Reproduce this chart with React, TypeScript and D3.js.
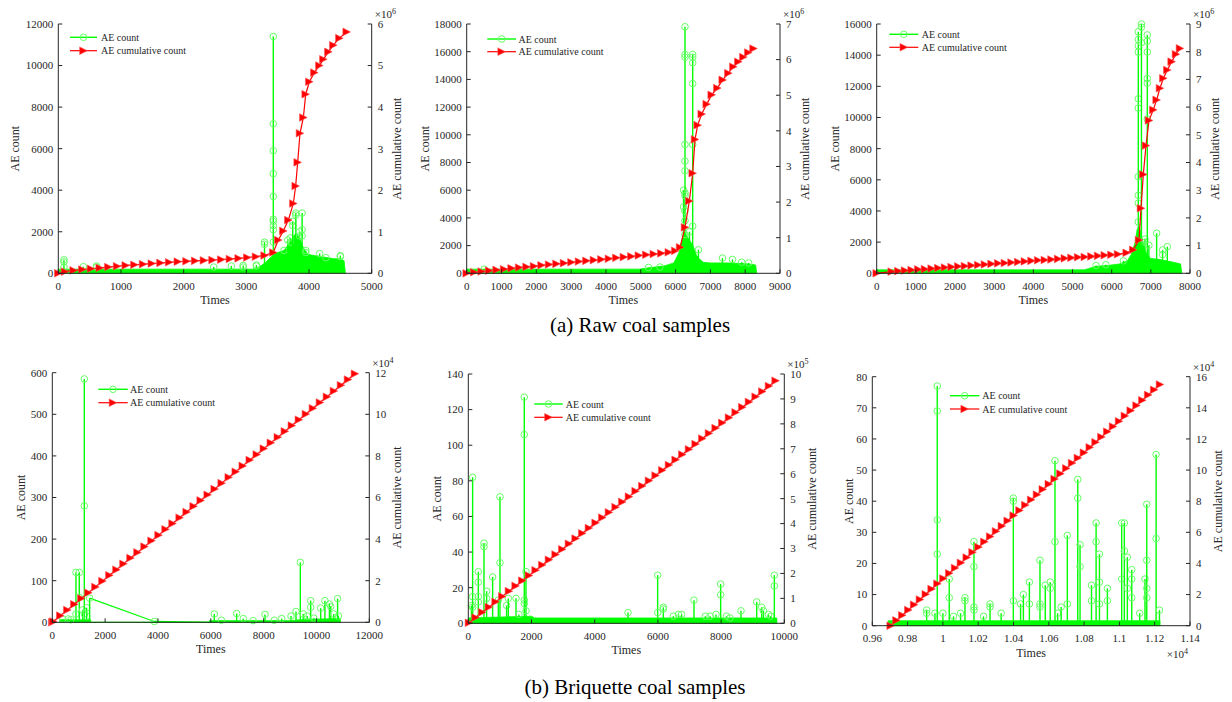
import React from "react";
import * as d3 from "d3";

type Pt = [number, number];
type Spike = [number, number[]];

// ================= (a) Raw coal samples =================
// Panel 1
const p1CumTimes = [0, 107, 245, 384, 522, 661, 799, 938, 1076, 1215, 1353, 1492, 1630, 1769, 1907, 2046, 2184, 2323, 2461, 2600, 2738, 2877, 3015, 3154, 3292, 3430, 3510, 3590, 3670, 3750, 3787, 3819, 3856, 3910, 3947, 4005, 4085, 4165, 4229, 4309, 4388, 4484, 4601];
const p1CumValues = [0, 0.04, 0.07, 0.09, 0.11, 0.13, 0.15, 0.17, 0.19, 0.205, 0.22, 0.235, 0.25, 0.265, 0.28, 0.29, 0.3, 0.31, 0.32, 0.33, 0.345, 0.36, 0.38, 0.4, 0.43, 0.5, 0.8, 1.02, 1.28, 1.68, 2.1, 2.67, 3.37, 3.75, 4.31, 4.61, 4.83, 5.0, 5.15, 5.33, 5.49, 5.66, 5.81];
const p1Band: Pt[] = [[0, 0], [0, 200], [3100, 200], [3200, 300], [3300, 500], [3400, 800], [3450, 950], [3500, 1000], [3600, 1100], [3650, 1300], [3700, 1500], [3750, 1800], [3800, 1900], [3850, 1700], [3900, 1300], [3950, 1000], [4000, 900], [4100, 850], [4200, 800], [4300, 750], [4400, 700], [4500, 700], [4560, 600], [4580, 0]];
const p1Spikes: Spike[] = [[90, [650, 550, 300]], [400, [320]], [610, [350, 300]], [2480, [300]], [2760, [350]], [2950, [380, 300]], [3160, [400, 350]], [3290, [1500, 1400]], [3430, [11400, 7200, 5900, 4800, 3700, 2600, 2500, 2300, 2100, 1500]], [3600, [1100]], [3660, [1600]], [3700, [1700, 1500]], [3740, [2500, 2300]], [3790, [2900, 2800]], [3850, [2000, 1800]], [3890, [2900, 2100, 1800]], [3950, [1100, 1000]], [4170, [950]], [4270, [750]], [4500, [850, 800]]];
const p1XTicks = [0, 1000, 2000, 3000, 4000, 5000];
const p1YLTicks = [0, 2000, 4000, 6000, 8000, 10000, 12000];
const p1YRTicks = [0, 1, 2, 3, 4, 5, 6];

// Panel 2
const p2CumTimes = [0, 215, 430, 645, 860, 1075, 1290, 1505, 1720, 1935, 2150, 2365, 2580, 2795, 3010, 3225, 3440, 3655, 3870, 4085, 4300, 4515, 4730, 4945, 5160, 5375, 5590, 5805, 5990, 6130, 6271, 6396, 6492, 6559, 6635, 6751, 6894, 7038, 7200, 7354, 7516, 7660, 7803, 7947, 8090, 8240];
const p2CumValues = [0, 0.03, 0.05, 0.075, 0.095, 0.115, 0.14, 0.16, 0.18, 0.2, 0.225, 0.245, 0.265, 0.285, 0.31, 0.33, 0.35, 0.37, 0.39, 0.41, 0.435, 0.455, 0.475, 0.5, 0.52, 0.54, 0.56, 0.59, 0.63, 0.73, 1.29, 2.03, 2.81, 3.76, 4.16, 4.47, 4.75, 5.01, 5.2, 5.43, 5.62, 5.8, 5.94, 6.07, 6.2, 6.31];
const p2Band: Pt[] = [[0, 0], [0, 300], [4950, 300], [5100, 350], [5400, 450], [5700, 550], [5950, 750], [6100, 1500], [6200, 2600], [6250, 3000], [6300, 2800], [6400, 2400], [6500, 2000], [6600, 1300], [6700, 1000], [6800, 800], [7000, 750], [7500, 750], [8000, 700], [8300, 600], [8330, 0]];
const p2Spikes: Spike[] = [[500, [300]], [5220, [420]], [5550, [450]], [6230, [6000, 4800]], [6271, [17800, 15800, 15600, 9300, 8100, 7400, 5800, 5600, 4500, 3800, 2800]], [6400, [3000]], [6492, [15800, 15600, 15200, 13700, 9300, 3400]], [6657, [1700]], [7347, [1100]], [7634, [1000]], [7900, [800]], [8100, [750]]];
const p2XTicks = [0, 1000, 2000, 3000, 4000, 5000, 6000, 7000, 8000, 9000];
const p2YLTicks = [0, 2000, 4000, 6000, 8000, 10000, 12000, 14000, 16000, 18000];
const p2YRTicks = [0, 1, 2, 3, 4, 5, 6, 7];

// Panel 3
const p3CumTimes = [0, 383, 553, 723, 893, 1063, 1233, 1403, 1573, 1743, 1913, 2083, 2253, 2423, 2593, 2763, 2933, 3103, 3273, 3443, 3613, 3783, 3953, 4123, 4293, 4463, 4633, 4803, 4973, 5143, 5313, 5483, 5653, 5823, 5993, 6163, 6383, 6551, 6698, 6749, 6808, 6876, 6953, 7063, 7148, 7233, 7319, 7421, 7531, 7642, 7744];
const p3CumValues = [0, 0.06, 0.08, 0.1, 0.12, 0.14, 0.15, 0.17, 0.19, 0.21, 0.23, 0.25, 0.26, 0.28, 0.3, 0.32, 0.34, 0.36, 0.37, 0.39, 0.41, 0.43, 0.45, 0.47, 0.48, 0.5, 0.52, 0.54, 0.56, 0.58, 0.59, 0.61, 0.63, 0.65, 0.67, 0.69, 0.74, 0.85, 1.2, 2.35, 3.57, 4.61, 5.52, 5.9, 6.26, 6.68, 7.04, 7.34, 7.64, 7.91, 8.12];
const p3Band: Pt[] = [[0, 0], [0, 220], [5300, 220], [5400, 300], [5600, 450], [5900, 500], [6200, 600], [6400, 800], [6500, 1200], [6600, 2000], [6650, 2800], [6700, 3000], [6750, 2500], [6800, 2000], [6850, 1500], [6900, 1200], [7000, 950], [7200, 900], [7400, 800], [7600, 700], [7760, 600], [7790, 0]];
const p3Spikes: Spike[] = [[5600, [500]], [5850, [550]], [6300, [800]], [6680, [15500, 15000, 14600, 14200, 11200, 10600, 6200, 5000, 4500, 3300]], [6760, [16000, 15800, 14800]], [6850, [2200, 2000]], [6910, [15300, 14900, 14200, 12500, 12200, 9900]], [6950, [1800]], [7148, [2570]], [7300, [1500, 1200]], [7421, [1710]]];
const p3XTicks = [0, 1000, 2000, 3000, 4000, 5000, 6000, 7000, 8000];
const p3YLTicks = [0, 2000, 4000, 6000, 8000, 10000, 12000, 14000, 16000];
const p3YRTicks = [0, 1, 2, 3, 4, 5, 6, 7, 8, 9];

// ================= (b) Briquette coal samples =================
// Panel 4
const p4CumTimes = [0, 38, 304, 569, 835, 1100, 1366, 1632, 1897, 2163, 2428, 2694, 2960, 3225, 3491, 3756, 4022, 4288, 4553, 4819, 5084, 5350, 5616, 5881, 6147, 6412, 6678, 6944, 7209, 7475, 7740, 8006, 8272, 8537, 8803, 9068, 9334, 9600, 9865, 10131, 10396, 10662, 10928, 11193, 11457];
const p4CumValues = [0, 0.04, 0.32, 0.59, 0.87, 1.15, 1.42, 1.7, 1.98, 2.26, 2.53, 2.81, 3.09, 3.36, 3.64, 3.92, 4.19, 4.47, 4.75, 5.03, 5.3, 5.58, 5.86, 6.13, 6.41, 6.69, 6.97, 7.24, 7.52, 7.8, 8.07, 8.35, 8.63, 8.9, 9.18, 9.46, 9.74, 10.01, 10.29, 10.57, 10.84, 11.12, 11.4, 11.67, 11.95];
const p4Band: Pt[] = [[280, 0], [280, 6], [1450, 6], [1460, 0], [5950, 0], [5950, 4], [9000, 4], [9500, 7], [10900, 9], [10910, 0]];
const p4Spikes: Spike[] = [[400, [8]], [600, [8]], [700, [6]], [896, [120, 20]], [1022, [120, 60]], [1150, [30]], [1212, [585, 280, 20]], [1300, [35, 15]], [1413, [58]], [6133, [20]], [6400, [5]], [6979, [21]], [7231, [9]], [7600, [4]], [8052, [19]], [8400, [5]], [8683, [9]], [9036, [15]], [9225, [26]], [9389, [144]], [9500, [20]], [9650, [15]], [9781, [52, 36]], [9900, [10]], [10160, [34]], [10320, [52]], [10490, [44]], [10540, [38]], [10650, [20]], [10800, [57]], [10830, [15]]];
const p4Gap: Pt[] = [[1413, 58], [3862, 2], [6000, 0]];
const p4XTicks = [0, 2000, 4000, 6000, 8000, 10000, 12000];
const p4YLTicks = [0, 100, 200, 300, 400, 500, 600];
const p4YRTicks = [0, 2, 4, 6, 8, 10, 12];

// Panel 5
const p5CumTimes = [20, 231, 442, 653, 864, 1075, 1286, 1497, 1708, 1919, 2130, 2341, 2552, 2763, 2974, 3185, 3396, 3607, 3818, 4029, 4240, 4451, 4662, 4873, 5084, 5295, 5506, 5717, 5928, 6139, 6350, 6561, 6772, 6983, 7194, 7405, 7616, 7827, 8038, 8249, 8460, 8671, 8882, 9093, 9304, 9515, 9726];
const p5CumValues = [0.02, 0.23, 0.44, 0.65, 0.86, 1.08, 1.29, 1.5, 1.71, 1.92, 2.13, 2.34, 2.55, 2.76, 2.97, 3.19, 3.4, 3.61, 3.82, 4.03, 4.24, 4.45, 4.66, 4.87, 5.08, 5.3, 5.51, 5.72, 5.93, 6.14, 6.35, 6.56, 6.77, 6.98, 7.19, 7.41, 7.62, 7.83, 8.04, 8.25, 8.46, 8.67, 8.88, 9.09, 9.3, 9.52, 9.73];
const p5Band: Pt[] = [[0, 0], [0, 3], [2000, 4], [2100, 3], [9760, 3], [9770, 0]];
const p5Spikes: Spike[] = [[100, [10]], [137, [82, 15, 9]], [317, [29, 23, 15, 12]], [496, [45, 43]], [580, [18, 14]], [770, [26]], [950, [13]], [1002, [71, 34]], [1213, [10]], [1266, [14]], [1509, [14]], [1600, [5]], [1772, [127, 106, 13, 11]], [1825, [29, 7]], [5053, [6]], [5992, [27, 6]], [6172, [9, 8]], [6490, [4]], [6650, [5]], [6750, [5]], [7142, [13]], [7500, [4]], [7650, [4]], [7839, [5]], [7986, [22, 16]], [8170, [4]], [8280, [3]], [8630, [7]], [9126, [12]], [9284, [9]], [9340, [7]], [9500, [5]], [9570, [4]], [9685, [27, 21]]];
const p5XTicks = [0, 2000, 4000, 6000, 8000, 10000];
const p5YLTicks = [0, 20, 40, 60, 80, 100, 120, 140];
const p5YRTicks = [0, 1, 2, 3, 4, 5, 6, 7, 8, 9, 10];

// Panel 6
const p6CumTimes = [9704, 9737, 9770, 9804, 9837, 9870, 9903, 9936, 9969, 10003, 10036, 10069, 10102, 10135, 10168, 10202, 10235, 10268, 10301, 10334, 10367, 10401, 10434, 10467, 10500, 10533, 10566, 10600, 10633, 10666, 10699, 10732, 10765, 10799, 10832, 10865, 10898, 10931, 10964, 10998, 11031, 11064, 11097, 11130, 11163, 11197, 11230];
const p6CumValues = [0, 0.34, 0.67, 1.01, 1.35, 1.68, 2.02, 2.36, 2.7, 3.03, 3.37, 3.71, 4.04, 4.38, 4.72, 5.05, 5.39, 5.73, 6.07, 6.4, 6.74, 7.08, 7.41, 7.75, 8.09, 8.42, 8.76, 9.1, 9.43, 9.77, 10.11, 10.45, 10.78, 11.12, 11.46, 11.79, 12.13, 12.47, 12.8, 13.14, 13.48, 13.82, 14.15, 14.49, 14.83, 15.16, 15.5];
const p6Band: Pt[] = [[9690, 0], [9690, 1.6], [11230, 1.6], [11230, 0]];
const p6Spikes: Spike[] = [[9908, [4, 5]], [9955, [4]], [9968, [77, 69, 34, 23]], [10000, [4]], [10036, [15, 9]], [10060, [3]], [10100, [4]], [10125, [9, 8]], [10176, [27, 19, 6, 5]], [10230, [3]], [10267, [7, 6]], [10330, [4]], [10399, [41, 40, 8]], [10440, [7]], [10456, [10]], [10490, [14, 7]], [10550, [21, 7, 6]], [10580, [13]], [10608, [14, 12]], [10635, [53, 27]], [10650, [4]], [10670, [6]], [10705, [29, 7]], [10764, [47, 41]], [10777, [26, 19]], [10842, [13, 8]], [10868, [33, 27]], [10887, [23, 14, 7]], [10932, [12, 8]], [11013, [33, 15]], [11028, [33, 24]], [11045, [22, 12]], [11070, [18, 15, 9]], [11115, [4]], [11145, [15]], [11155, [39, 21, 12, 9]], [11208, [55, 28]], [11227, [5]]];
const p6XTicks = [9600, 9800, 10000, 10200, 10400, 10600, 10800, 11000, 11200, 11400];
const p6XTickLabels = ["0.96", "0.98", "1", "1.02", "1.04", "1.06", "1.08", "1.1", "1.12", "1.14"];
const p6YLTicks = [0, 10, 20, 30, 40, 50, 60, 70, 80];
const p6YRTicks = [0, 2, 4, 6, 8, 10, 12, 14, 16];

const captionA = "(a) Raw coal samples";
const captionB = "(b) Briquette coal samples";
const legendA = "AE count";
const legendB = "AE cumulative count";

// ================= styling / layout =================
const FONT = "Liberation Serif, Times New Roman, serif";
const TXT = "#262626";
const GREEN = "#00ff00";
const CIRC = "#66ff66";
const RED = "#ff0000";

interface Cfg {
  left: number; right: number; top: number; bottom: number;
  xDomain: [number, number]; yLDomain: [number, number]; yRDomain: [number, number];
  xTicks: number[]; xTickLabels?: string[]; yLTicks: number[]; yRTicks: number[];
  exp: string; xExp?: string;
  cumT: number[]; cumV: number[]; band: Pt[]; spikes: Spike[]; gap?: Pt[];
  leftLabelX: number; rightLabelX: number;
  legX1: number; legX2: number; legY1: number; legY2: number; legTX: number;
}

const cfgs: Cfg[] = [
  { left: 58.3, right: 371.7, top: 24, bottom: 273.3, xDomain: [0, 5000], yLDomain: [0, 12000], yRDomain: [0, 6],
    xTicks: p1XTicks, yLTicks: p1YLTicks, yRTicks: p1YRTicks, exp: "6",
    cumT: p1CumTimes, cumV: p1CumValues, band: p1Band, spikes: p1Spikes,
    leftLabelX: 15, rightLabelX: 396.7, legX1: 70, legX2: 97, legY1: 37.3, legY2: 50.7, legTX: 101 },
  { left: 466.7, right: 780, top: 24, bottom: 273.3, xDomain: [0, 9000], yLDomain: [0, 18000], yRDomain: [0, 7],
    xTicks: p2XTicks, yLTicks: p2YLTicks, yRTicks: p2YRTicks, exp: "6",
    cumT: p2CumTimes, cumV: p2CumValues, band: p2Band, spikes: p2Spikes,
    leftLabelX: 425, rightLabelX: 805, legX1: 487.3, legX2: 516, legY1: 39, legY2: 51.7, legTX: 518.5 },
  { left: 876.7, right: 1190, top: 24, bottom: 273.3, xDomain: [0, 8000], yLDomain: [0, 16000], yRDomain: [0, 9],
    xTicks: p3XTicks, yLTicks: p3YLTicks, yRTicks: p3YRTicks, exp: "6",
    cumT: p3CumTimes, cumV: p3CumValues, band: p3Band, spikes: p3Spikes,
    leftLabelX: 835, rightLabelX: 1215, legX1: 889.3, legX2: 918.3, legY1: 34.3, legY2: 47.3, legTX: 921.7 },
  { left: 52.3, right: 369.3, top: 372.7, bottom: 622.3, xDomain: [0, 12000], yLDomain: [0, 600], yRDomain: [0, 12],
    xTicks: p4XTicks, yLTicks: p4YLTicks, yRTicks: p4YRTicks, exp: "4",
    cumT: p4CumTimes, cumV: p4CumValues, band: p4Band, spikes: p4Spikes, gap: p4Gap,
    leftLabelX: 20.7, rightLabelX: 396.7, legX1: 98.3, legX2: 127.7, legY1: 389.3, legY2: 402.7, legTX: 130 },
  { left: 468.3, right: 784.3, top: 374, bottom: 623.3, xDomain: [0, 10000], yLDomain: [0, 140], yRDomain: [0, 10],
    xTicks: p5XTicks, yLTicks: p5YLTicks, yRTicks: p5YRTicks, exp: "5",
    cumT: p5CumTimes, cumV: p5CumValues, band: p5Band, spikes: p5Spikes,
    leftLabelX: 436.7, rightLabelX: 811.7, legX1: 534.3, legX2: 562.7, legY1: 404, legY2: 417.3, legTX: 565.7 },
  { left: 872.3, right: 1190, top: 376.7, bottom: 625.7, xDomain: [9600, 11400], yLDomain: [0, 80], yRDomain: [0, 16],
    xTicks: p6XTicks, xTickLabels: p6XTickLabels, yLTicks: p6YLTicks, yRTicks: p6YRTicks, exp: "4", xExp: "4",
    cumT: p6CumTimes, cumV: p6CumValues, band: p6Band, spikes: p6Spikes,
    leftLabelX: 848.3, rightLabelX: 1217.7, legX1: 950, legX2: 979.3, legY1: 395.7, legY2: 409, legTX: 982.3 },
];

const triPath = (cx: number, cy: number, s = 3.8) =>
  `M${cx - s},${cy - s}L${cx + s},${cy}L${cx - s},${cy + s}Z`;

const fontStyle = (size: number): React.CSSProperties => ({ fontFamily: FONT, fontSize: size + "px" });

function Panel({ c }: { c: Cfg }) {
  const x = d3.scaleLinear().domain(c.xDomain).range([c.left, c.right]);
  const yL = d3.scaleLinear().domain(c.yLDomain).range([c.bottom, c.top]);
  const yR = d3.scaleLinear().domain(c.yRDomain).range([c.bottom, c.top]);
  const area = d3.area<Pt>().x((d) => x(d[0])).y0(yL(0)).y1((d) => yL(d[1]));
  const gLine = d3.line<Pt>().x((d) => x(d[0])).y((d) => yL(d[1]));
  const cumPts: Pt[] = c.cumT.map((t, i) => [t, c.cumV[i]]);
  const rLine = d3.line<Pt>().x((d) => x(d[0])).y((d) => yR(d[1]));
  const tk = 4;
  const midY = (c.top + c.bottom) / 2;
  const midX = (c.left + c.right) / 2;
  return (
    <g>
      <path d={area(c.band) || ""} fill={GREEN} stroke={GREEN} strokeWidth={0.8} />
      {c.gap && <path d={gLine(c.gap) || ""} fill="none" stroke={GREEN} strokeWidth={1.2} />}
      {c.gap && <circle cx={x(c.gap[1][0])} cy={yL(c.gap[1][1])} r={3.3} fill="none" stroke={CIRC} strokeWidth={1} />}
      {c.spikes.map(([t, vals], i) => (
        <g key={i}>
          <line x1={x(t)} x2={x(t)} y1={yL(0)} y2={yL(d3.max(vals) as number)} stroke={GREEN} strokeWidth={1.4} />
          {vals.map((v, j) => (
            <circle key={j} cx={x(t)} cy={yL(v)} r={3.3} fill="none" stroke={CIRC} strokeWidth={1} />
          ))}
        </g>
      ))}
      <path d={rLine(cumPts) || ""} fill="none" stroke={RED} strokeWidth={1.2} />
      {cumPts.map((d, i) => (
        <path key={i} d={triPath(x(d[0]), yR(d[1]))} fill={RED} stroke="#ff5050" strokeWidth={0.6} />
      ))}
      {/* axes */}
      <g stroke={TXT} strokeWidth={1} fill="none">
        <line x1={c.left} x2={c.left} y1={c.top} y2={c.bottom} />
        <line x1={c.right} x2={c.right} y1={c.top} y2={c.bottom} />
        <line x1={c.left} x2={c.right} y1={c.bottom} y2={c.bottom} />
        {c.xTicks.map((t, i) => (
          <line key={"xt" + i} x1={x(t)} x2={x(t)} y1={c.bottom} y2={c.bottom - tk} />
        ))}
        {c.yLTicks.map((t, i) => (
          <line key={"yl" + i} x1={c.left} x2={c.left + tk} y1={yL(t)} y2={yL(t)} />
        ))}
        {c.yRTicks.map((t, i) => (
          <line key={"yr" + i} x1={c.right} x2={c.right - tk} y1={yR(t)} y2={yR(t)} />
        ))}
      </g>
      <g style={fontStyle(11)} fill={TXT}>
        {c.xTicks.map((t, i) => (
          <text key={"xl" + i} x={x(t)} y={c.bottom + 16.5} textAnchor="middle">
            {c.xTickLabels ? c.xTickLabels[i] : String(t)}
          </text>
        ))}
        {c.yLTicks.map((t, i) => (
          <text key={"yll" + i} x={c.left - 5} y={yL(t)} dy="0.35em" textAnchor="end">{String(t)}</text>
        ))}
        {c.yRTicks.map((t, i) => (
          <text key={"yrl" + i} x={c.right + 6} y={yR(t)} dy="0.35em" textAnchor="start">{String(t)}</text>
        ))}
        <text x={c.right + 3} y={c.top - 6}>
          ×10<tspan style={{ fontSize: "8px" }} dy={-4}>{c.exp}</tspan>
        </text>
        {c.xExp && (
          <text x={c.right - 2} y={c.bottom + 32} textAnchor="end">
            ×10<tspan style={{ fontSize: "8px" }} dy={-4}>{c.xExp}</tspan>
          </text>
        )}
      </g>
      <g style={fontStyle(12)} fill={TXT}>
        <text transform={`translate(${c.leftLabelX},${midY}) rotate(-90)`} textAnchor="middle" dy="0.35em">AE count</text>
        <text transform={`translate(${c.rightLabelX},${midY}) rotate(-90)`} textAnchor="middle" dy="0.35em">AE cumulative count</text>
        <text x={midX} y={c.bottom + 31} textAnchor="middle">Times</text>
      </g>
      {/* legend */}
      <g>
        <line x1={c.legX1} x2={c.legX2} y1={c.legY1} y2={c.legY1} stroke={GREEN} strokeWidth={1.4} />
        <circle cx={(c.legX1 + c.legX2) / 2} cy={c.legY1} r={3.3} fill="none" stroke={CIRC} strokeWidth={1} />
        <line x1={c.legX1} x2={c.legX2} y1={c.legY2} y2={c.legY2} stroke={RED} strokeWidth={1.2} />
        <path d={triPath((c.legX1 + c.legX2) / 2, c.legY2)} fill={RED} stroke="#ff5050" strokeWidth={0.6} />
        <g style={fontStyle(10)} fill={TXT}>
          <text x={c.legTX} y={c.legY1} dy="0.35em">{legendA}</text>
          <text x={c.legTX} y={c.legY2} dy="0.35em">{legendB}</text>
        </g>
      </g>
    </g>
  );
}

export default function App() {
  return (
    <svg width={1232} height={702} style={{ position: "absolute", left: 0, top: 0, background: "#fff" }}>
      <rect x={0} y={0} width={1232} height={702} fill="#fff" />
      {cfgs.map((c, i) => (
        <Panel key={i} c={c} />
      ))}
      <g style={fontStyle(21)} fill="#000" textAnchor="middle">
        <text x={640} y={332}>{captionA}</text>
        <text x={635} y={694}>{captionB}</text>
      </g>
    </svg>
  );
}
